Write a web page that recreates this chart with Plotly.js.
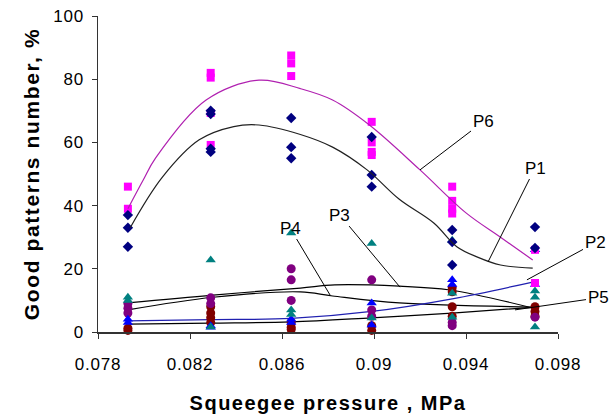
<!DOCTYPE html>
<html><head><meta charset="utf-8">
<script src="https://cdn.plot.ly/plotly-3.0.1.min.js"></script>
<style>
html,body{margin:0;padding:0;background:#fff}
#chart{width:615px;height:415px}
#chart .xtitle{letter-spacing:1.5px}
#chart .ytitle{letter-spacing:1.6px}
#chart .xtick text, #chart .ytick text{letter-spacing:0.8px}
</style>
</head><body><div id="chart"></div>
<script>
// cluster x positions (MPa)
var xs = [0.0793, 0.0829, 0.0864, 0.0899, 0.0934, 0.0970];

// scatter values per cluster
var p6Vals = [[46, 39], [82, 80.5, 69.3, 59.2], [87.5, 85, 81], [66.5, 60, 57, 56], [46, 41.5, 39, 37.5], [26, 15.5]];
var p1Vals = [[37, 33, 27], [70, 69, 58, 57], [67.7, 58.5, 55], [61.7, 49.7, 46], [32.3, 28.5, 21.2], [33.2, 26.6]];
var p4Vals = [[11, 10], [22.8, 1.6], [31.3, 7, 5.5], [28, 4.4], [29, 12.3, 4.7], [13, 11, 1.6]];
var p3Vals = [[9, 7.5, 6], [10.8, 9], [20, 16.5, 10], [16.5, 7, 5], [3, 2], [4.7]];
var p2Vals = [[4, 3], [2, 1.5], [4, 3], [9.2, 2.2], [16.5, 15], [26, 15]];
var p5Vals = [[1.2, 0.5], [8, 6, 4.5, 3], [3, 1.5, 0.8], [2, 0.5], [14, 12.7, 8, 5], [8, 6.5, 5]];

// trend lines
var p6TrendX = [0.0793, 0.07996, 0.0805, 0.0827, 0.0850, 0.0868, 0.0882, 0.0898, 0.0920, 0.0940, 0.0955, 0.0969];
var p6TrendY = [39, 48, 55, 73.4, 79.7, 77, 73.4, 65.5, 51.3, 37.7, 30, 22.8];
var p1TrendX = [0.0794, 0.0808, 0.0824, 0.0839, 0.0850, 0.0868, 0.0882, 0.0897, 0.0911, 0.0926, 0.0936, 0.0945, 0.0955, 0.0969];
var p1TrendY = [33, 49, 60.8, 65, 65.5, 62.5, 58.5, 51.3, 42, 34.5, 27, 23.7, 21.2, 20.2];
var p2TrendX = [0.0793, 0.0829, 0.0864, 0.0899, 0.0934, 0.0969];
var p2TrendY = [3.5, 3.9, 4.3, 6.5, 10.5, 15.8];
var p3TrendX = [0.0793, 0.0830, 0.0868, 0.0883, 0.0911, 0.0933, 0.0969];
var p3TrendY = [9.2, 11.7, 13.9, 14.9, 14.5, 13.3, 7.6];
var p4TrendX = [0.0793, 0.0830, 0.0868, 0.0882, 0.0911, 0.0969];
var p4TrendY = [7, 11, 12.7, 11.4, 9.2, 7.9];
var p5TrendX = [0.0793, 0.0829, 0.0864, 0.0899, 0.0934, 0.0969];
var p5TrendY = [2.5, 2.8, 3.2, 4.5, 6, 7.8];

var xTickVals = [0.078, 0.082, 0.086, 0.090, 0.094, 0.098];
var xTickText = ['0.078', '0.082', '0.086', '0.09', '0.094', '0.098'];
var yTickVals = [0, 20, 40, 60, 80, 100];

function flat(vals) {
  var x = [], y = [];
  vals.forEach(function (arr, i) { arr.forEach(function (v) { x.push(xs[i]); y.push(v); }); });
  return {x: x, y: y};
}
function pts(vals, color, symbol, size) {
  var f = flat(vals);
  return {x: f.x, y: f.y, type: 'scatter', mode: 'markers', cliponaxis: false,
    marker: {color: color, symbol: symbol, size: size, line: {width: 0}}, hoverinfo: 'none'};
}
function trend(x, y, color, w) {
  return {x: x, y: y, type: 'scatter', mode: 'lines',
    line: {color: color, width: w || 1.2, shape: 'spline', smoothing: 1.0}, hoverinfo: 'none'};
}

var data = [
  trend(p5TrendX, p5TrendY, '#000000'),
  trend(p4TrendX, p4TrendY, '#000000'),
  trend(p3TrendX, p3TrendY, '#000000'),
  trend(p2TrendX, p2TrendY, '#2020b0'),
  pts(p5Vals, '#800000', 'circle', 9),
  pts(p3Vals, '#800080', 'circle', 9),
  pts(p2Vals, '#0000ff', 'triangle-up', 9),
  pts(p4Vals, '#008080', 'triangle-up', 9),
  pts(p6Vals, '#ff00ff', 'square', 8),
  pts(p1Vals, '#000080', 'diamond', 8),
  trend(p6TrendX, p6TrendY, '#b020b0'),
  trend(p1TrendX, p1TrendY, '#202020')
];

function lab(text, tx, ty, px, py) {
  return {text: text, x: px, y: py, ax: tx, ay: ty, axref: 'x', ayref: 'y', xref: 'x', yref: 'y',
    showarrow: true, arrowhead: 0, arrowwidth: 1, arrowcolor: '#000', standoff: 0, startstandoff: 0,
    font: {family: 'Liberation Sans, Arial, sans-serif', size: 17, color: '#000'}};
}

var layout = {
  width: 615, height: 415,
  margin: {l: 98, r: 57, t: 16, b: 83},
  paper_bgcolor: '#fff', plot_bgcolor: '#fff',
  showlegend: false,
  font: {family: 'Liberation Sans, Arial, sans-serif', size: 17, color: '#000'},
  xaxis: {range: [0.078, 0.098], tickvals: xTickVals, ticktext: xTickText,
    showgrid: false, zeroline: false, showline: true, linecolor: '#333', linewidth: 1.5,
    ticks: 'outside', ticklen: 5, tickcolor: '#333', tickfont: {size: 17}, ticklabelstandoff: 11,
    title: {text: 'Squeegee pressure , MPa', font: {size: 20, weight: 'bold'}, standoff: 23}},
  yaxis: {range: [0, 100], tickvals: yTickVals,
    showgrid: false, zeroline: false, showline: true, linecolor: '#333', linewidth: 1.5,
    ticks: 'outside', ticklen: 5, tickcolor: '#333', tickfont: {size: 17}, ticklabelstandoff: 4,
    title: {text: 'Good patterns number, %', font: {size: 21, weight: 'bold'}, standoff: 10}},
  annotations: [
    lab('P6', 0.09474, 66.5, 0.0920, 51.3),
    lab('P1', 0.09700, 51.9, 0.09496, 22.2),
    lab('P2', 0.09961, 28.2, 0.09665, 16.5),
    lab('P3', 0.08852, 37, 0.09113, 14.2),
    lab('P4', 0.08635, 32.9, 0.08809, 11.7),
    lab('P5', 0.09974, 10.8, 0.09613, 7)
  ]
};
Plotly.newPlot('chart', data, layout, {staticPlot: true, displayModeBar: false});
</script></body></html>
